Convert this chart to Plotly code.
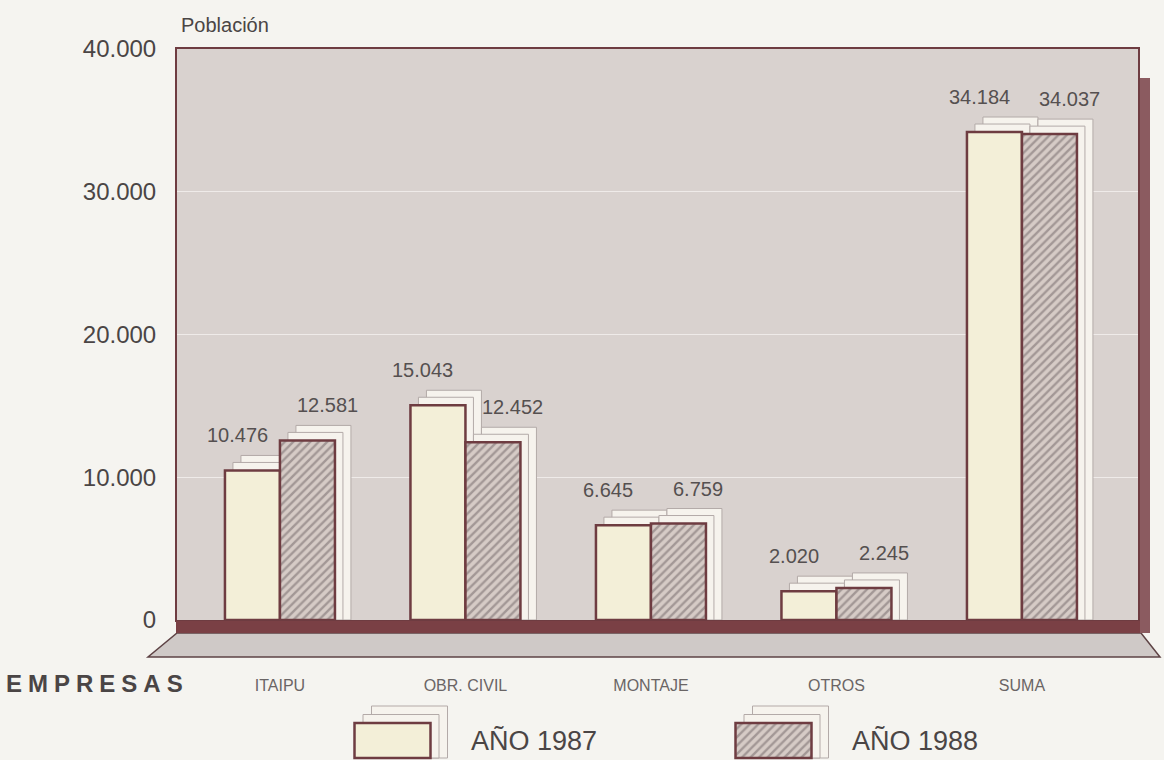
import plotly.graph_objects as go

# ---------------- data ----------------
categories = ["ITAIPU", "OBR. CIVIL", "MONTAJE", "OTROS", "SUMA"]
series_names = ["AÑO 1987", "AÑO 1988"]
values_1987 = [10476, 15043, 6645, 2020, 34184]
values_1988 = [12581, 12452, 6759, 2245, 34037]
y_ticks = [0, 10000, 20000, 30000, 40000]

# ---------------- geometry / style (pixels of the 1164x760 page) ----------------
W, H = 1164, 760
PL, PR, PT, PB = 177, 1138, 49, 620          # plot area in page pixels
PAPER_H = H - PT                               # margin b = 0
def px(xp):  # page x pixel -> paper x
    return (xp - PL) / (PR - PL)
def py(yp):  # page y pixel -> paper y
    return (H - yp) / PAPER_H

Y_MAX = 40000
X_RANGE = [-0.555, -0.555 + (PR - PL) / 185.5]
unit_x = (PR - PL) / (X_RANGE[1] - X_RANGE[0])       # px per category unit
unit_y = (PB - PT) / Y_MAX                             # px per value unit
BAR_W = 55 / unit_x
offsets = [-BAR_W, 0.0]
shadow_px = [(16, 15), (8, 8)]                         # far to near

FONT = "Liberation Sans, Arial, sans-serif"
MAROON = "#6e3c41"
PLOT_BG = "#d9d2cf"
PAGE_BG = "#f5f4f0"
CREAM = "#f3efd8"
fills = [dict(color=CREAM, line=dict(color=MAROON, width=2.5)),
         dict(color="#d8cdc8",
              pattern=dict(shape="/", fgcolor="#6f6465", bgcolor="#d6cbc6", size=6, solidity=0.4),
              line=dict(color=MAROON, width=2.5))]
SHADOW = dict(color="#f6f3ed", line=dict(color="#b3aaa8", width=1))

all_vals = [values_1987, values_1988]
xs = list(range(len(categories)))

fig = go.Figure()

# shadows behind bars
for dxp, dyp in shadow_px:
    for s, vals in enumerate(all_vals):
        fig.add_trace(go.Bar(
            x=xs, y=[v + dyp / unit_y for v in vals], width=BAR_W,
            offset=offsets[s] + dxp / unit_x, marker=SHADOW,
            showlegend=False, hoverinfo="skip"))

# main bars
for s, vals in enumerate(all_vals):
    fig.add_trace(go.Bar(
        x=xs, y=vals, width=BAR_W, offset=offsets[s], name=series_names[s],
        marker=fills[s], showlegend=False))

# value labels
label_xshift = [-15, 20]
annotations = []
for s, vals in enumerate(all_vals):
    for i, v in enumerate(vals):
        annotations.append(dict(
            x=i + offsets[s] + BAR_W / 2, y=v, xref="x", yref="y",
            text=f"{v:,}".replace(",", "."), showarrow=False,
            xshift=label_xshift[s], yshift=35,
            font=dict(family=FONT, size=20, color="#555050")))

# ---------- legend keys (own small axes at the bottom) ----------
LEG_CENTERS_PX = [392.5, 773.5]
leg_unit_x = LEG_CENTERS_PX[1] - LEG_CENTERS_PX[0]
LEG_W = 76 / leg_unit_x
leg_unit_y = 35
leg_range_y = [-2 / leg_unit_y, (758 - 703) / leg_unit_y]
leg_range_x = [-(LEG_CENTERS_PX[0] - PL) / leg_unit_x, 1 + (PR - LEG_CENTERS_PX[1]) / leg_unit_x]
for dxp, dyp in [(17, 17), (8.5, 8.5)]:
    for s in range(len(series_names)):
        fig.add_trace(go.Bar(
            x=[s], y=[1 + dyp / leg_unit_y], width=LEG_W, offset=-LEG_W / 2 + dxp / leg_unit_x,
            marker=SHADOW, xaxis="x2", yaxis="y2", showlegend=False, hoverinfo="skip"))
for s in range(len(series_names)):
    fig.add_trace(go.Bar(
        x=[s], y=[1], width=LEG_W, offset=-LEG_W / 2, marker=fills[s],
        xaxis="x2", yaxis="y2", showlegend=False, hoverinfo="skip"))
    annotations.append(dict(
        x=s + LEG_W / 2, y=0.5, xref="x2", yref="y2", xanchor="left", yanchor="middle",
        text=series_names[s], showarrow=False, xshift=38,
        font=dict(family=FONT, size=27, color="#4a4545")))

# axis titles / extra texts
annotations.append(dict(
    x=px(179), y=py(25), xref="paper", yref="paper", xanchor="left", yanchor="middle",
    text="Población", showarrow=False, font=dict(family=FONT, size=20, color="#4a4545")))
annotations.append(dict(
    x=px(4), y=py(683), xref="paper", yref="paper", xanchor="left", yanchor="middle",
    text='<span style="letter-spacing:6px"><b>EMPRESAS</b></span>', showarrow=False,
    font=dict(family=FONT, size=24, color="#4a4545")))

# decorative frame pieces (background, 3-D base and side)
shapes = [
    dict(type="rect", xref="x domain", yref="y domain", x0=0, x1=1, y0=0, y1=1,
         fillcolor=PLOT_BG, line=dict(width=0), layer="below"),
    # floor parallelogram
    dict(type="path", xref="paper", yref="paper",
         path=f"M {px(177)},{py(633)} L {px(1141)},{py(633)} L {px(1160)},{py(657)} L {px(148)},{py(657)} Z",
         fillcolor="#cfc9c7", line=dict(color="#5e4345", width=1.5), layer="above"),
    # thick base line
    dict(type="rect", xref="paper", yref="paper", x0=px(176), x1=px(1142), y0=py(633), y1=py(621),
         fillcolor="#7a4045", line=dict(width=0), layer="above"),
    # right side band
    dict(type="rect", xref="paper", yref="paper", x0=px(1140), x1=px(1150), y0=py(633), y1=py(78),
         fillcolor="#8b5b60", line=dict(width=0), layer="above"),
]

fig.update_layout(
    width=W, height=H,
    margin=dict(l=PL, r=W - PR, t=PT, b=0, autoexpand=False),
    paper_bgcolor=PAGE_BG, plot_bgcolor="rgba(0,0,0,0)",
    barmode="overlay", separators=",.",
    font=dict(family=FONT, color="#4a4545"),
    showlegend=False,
    xaxis=dict(range=X_RANGE, tickmode="array", tickvals=xs, ticktext=categories,
               showgrid=False, zeroline=False, ticks="", ticklabelstandoff=50, automargin=False,
               tickfont=dict(family=FONT, size=16, color="#6a6565"),
               showline=True, linecolor=MAROON, linewidth=2, mirror=True,
               domain=[0, 1], anchor="y"),
    yaxis=dict(range=[0, Y_MAX], tickmode="array", tickvals=y_ticks, tickformat=",d",
               showgrid=True, gridcolor="#efebe9", gridwidth=1.2, zeroline=False,
               ticks="", ticklabelstandoff=14, automargin=False,
               tickfont=dict(family=FONT, size=24, color="#4a4545"),
               showline=True, linecolor=MAROON, linewidth=2, mirror=True,
               domain=[py(PB), 1], anchor="x"),
    xaxis2=dict(range=leg_range_x, visible=False, domain=[0, 1], anchor="y2",
                fixedrange=True, automargin=False),
    yaxis2=dict(range=leg_range_y, visible=False, domain=[0, py(703)], anchor="x2",
                fixedrange=True, automargin=False),
    annotations=annotations,
    shapes=shapes,
)

fig.write_html(
    "out.html",
    config={"displayModeBar": False},
    post_script="document.body.style.margin='0px';document.body.style.background='%s';" % PAGE_BG,
)
